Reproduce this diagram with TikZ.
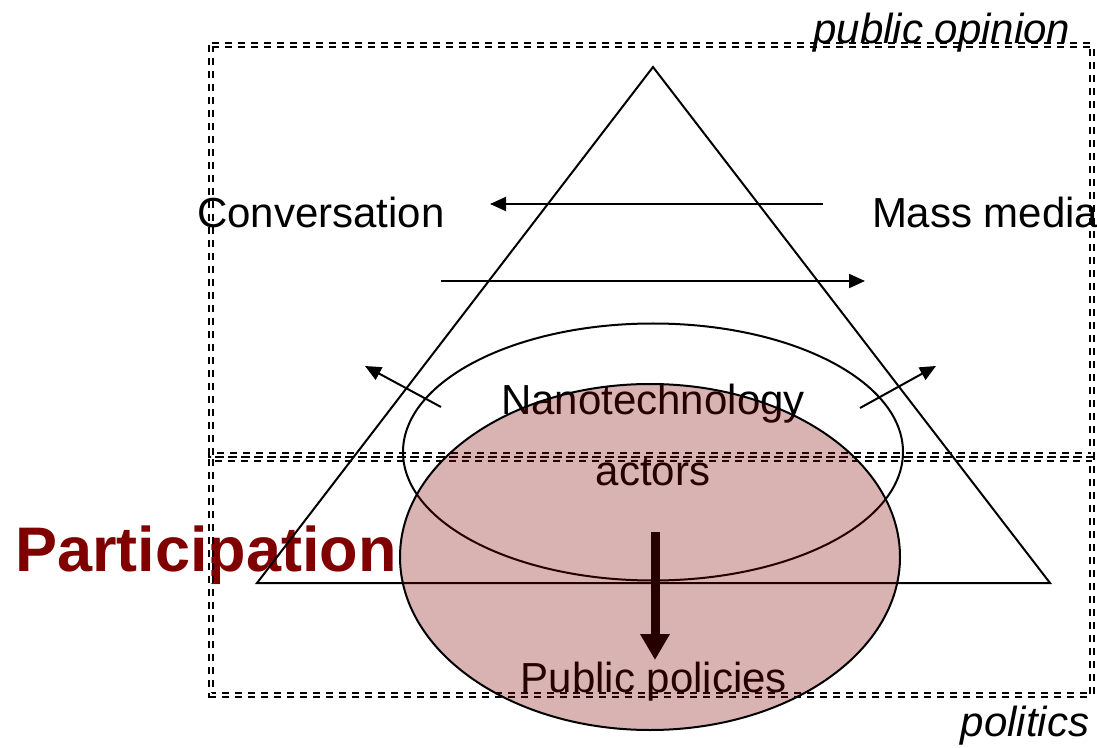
\documentclass[tikz,border=0pt]{standalone}
\usepackage{fontspec}
\setmainfont{Liberation Sans}
\usetikzlibrary{arrows.meta,positioning,shapes.geometric}
\definecolor{partred}{RGB}{128,0,0}

\begin{document}
\begin{tikzpicture}[x=0.5pt, y=-0.5pt, line width=1pt, >={Triangle[length=8pt,width=7pt]},
  lbl/.style={inner sep=0pt, anchor=base, font=\fontsize{21}{25}\selectfont},
  area/.style={draw, dash pattern=on 3.5pt off 3pt, line width=0.8pt, double, double distance=1.1pt}]
\useasboundingbox (0,0) rectangle (1097,748);

\node[inner sep=0pt, anchor=base west, text=partred, font=\fontsize{31.5}{36}\selectfont\bfseries] (part) at (14,571) {Participation};

% public opinion / politics areas
\draw[area] (211,45) rectangle (1092,455);
\draw[area] (211,459) rectangle (1092,695);
\node[lbl, font=\fontsize{21}{25}\selectfont\itshape] (opinion) at (942,44) {public opinion};
\node[lbl, font=\fontsize{21}{25}\selectfont\itshape] (politics) at (1025,736) {politics};

% pyramid
\coordinate (apex) at (653,67);
\coordinate (bl) at (257,583);
\coordinate (br) at (1050,583);
\draw (apex) -- (bl) -- (br) -- cycle;

\node[draw, ellipse, minimum width=250pt, minimum height=128.5pt] (actors) at (653,452) {};

\node[lbl] (conv) at (321,228) {Conversation};
\node[lbl, anchor=base west] (media) at (871,228) {Mass media};
\node[lbl] (nano) at (653,415) {Nanotechnology};
\node[lbl] (act) at (653,485) {actors};
\node[lbl] (policies) at (654,692) {Public policies};

\coordinate (m1) at (823,204);
\coordinate (c1) at (490,204);
\coordinate (c2) at (441,281);
\coordinate (m2) at (865,281);
\coordinate (l1) at (441,407);
\coordinate (l2) at (365,366);
\coordinate (r1) at (860,408);
\coordinate (r2) at (936,366);
\draw[->] (m1) -- (c1);
\draw[->] (c2) -- (m2);
\draw[->] (l1) -- (l2);
\draw[->] (r1) -- (r2);

\coordinate (down1) at (655,532);
\coordinate (down2) at (655,660);
\draw[line width=4.5pt, -{Triangle[length=13pt,width=14pt]}] (down1) -- (down2);

% participation overlay
\node[draw, ellipse, fill=partred, fill opacity=0.3, minimum width=250pt, minimum height=173pt] (part area) at (650,557) {};
\end{tikzpicture}
\end{document}
